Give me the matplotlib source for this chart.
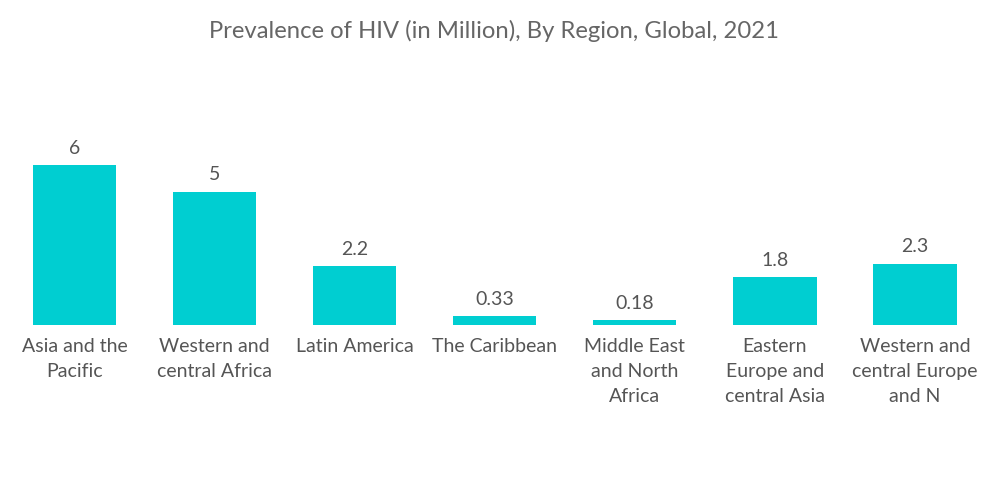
import matplotlib
matplotlib.use("Agg")
import matplotlib.pyplot as plt

categories = ["Asia and the\nPacific", "Western and\ncentral Africa", "Latin America",
              "The Caribbean", "Middle East\nand North\nAfrica", "Eastern\nEurope and\ncentral Asia",
              "Western and\ncentral Europe\nand N"]
values = [6, 5, 2.2, 0.33, 0.18, 1.8, 2.3]
value_labels = ["6", "5", "2.2", "0.33", "0.18", "1.8", "2.3"]

plt.rcParams['font.family'] = ['Lato', 'DejaVu Sans']
fig = plt.figure(figsize=(10, 5.04), dpi=100)
ax = fig.add_axes([0.0045, 1 - 325/504, 0.9805, 7*26.67/504])
x = list(range(len(categories)))
bars = ax.bar(x, values, width=0.595, color="#00CED1")
ax.set_xlim(-0.5, 6.5)
ax.set_ylim(0, 7)
for xi, v, lab in zip(x, values, value_labels):
    ax.annotate(lab, (xi, v), xytext=(0, 6), textcoords="offset points",
                ha="center", va="bottom", fontsize=14, color="#555555")
ax.set_xticks(x)
ax.set_xticklabels(categories, fontsize=14, color="#555555", linespacing=1.58, va="top")
ax.tick_params(axis="x", length=0, pad=9.5)
ax.set_yticks([])
for s in ax.spines.values():
    s.set_visible(False)
fig.text(0.494, 0.938, "Prevalence of HIV (in Million), By Region, Global, 2021",
         ha="center", va="center", fontsize=17.2, color="#666666")
fig.savefig("out.png", dpi=100, facecolor="white")
